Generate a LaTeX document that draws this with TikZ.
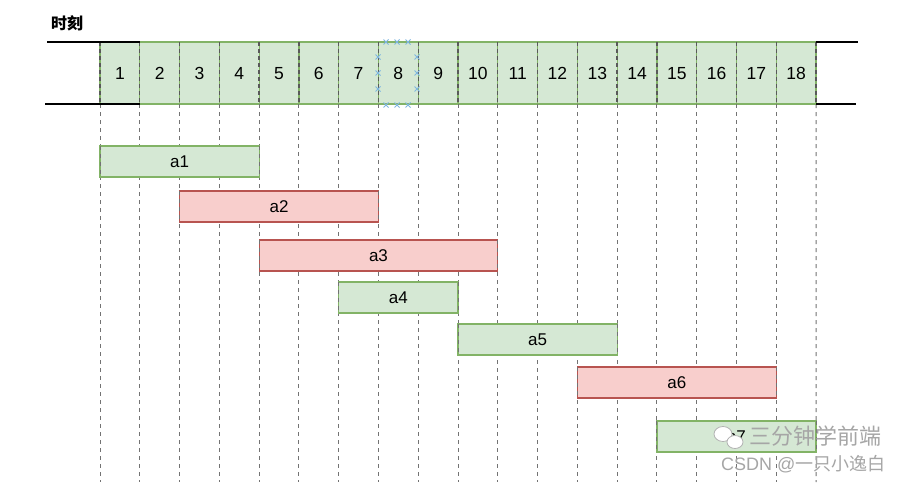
\documentclass[tikz,border=0pt]{standalone}
\usepackage{fontspec}
\setmainfont{Liberation Sans}
\newfontfamily\cjk{Noto Sans CJK SC}
\definecolor{gfill}{HTML}{D5E8D4}
\definecolor{gline}{HTML}{82B366}
\definecolor{rfill}{HTML}{F8CECC}
\definecolor{rline}{HTML}{B85450}
\definecolor{selblue}{HTML}{7EB6E0}
\begin{document}
\begin{tikzpicture}[x=1pt,y=-1pt,
  cell/.style={draw=gline, fill=gfill, line width=1.2pt, minimum width=39.78pt, minimum height=62pt, inner sep=0pt, outer sep=0pt, anchor=north west, text height=12.6pt, text depth=0pt, font=\fontsize{17.5}{17.5}\selectfont},
  gbar/.style={draw=gline, fill=gfill, line width=1.2pt, minimum height=31pt, inner sep=0pt, outer sep=0pt, anchor=north west, text height=12.2pt, text depth=0pt, font=\fontsize{17}{17}\selectfont},
  rbar/.style={draw=rline, fill=rfill, line width=1.2pt, minimum height=31pt, inner sep=0pt, outer sep=0pt, anchor=north west, text height=12.2pt, text depth=0pt, font=\fontsize{17}{17}\selectfont},
  vd/.style={draw=black!55, line width=1pt, dash pattern=on 4pt off 4pt},
  sepd/.style={draw=black!65, line width=1.3pt, dash pattern=on 4pt off 3pt},
  blk/.style={draw=black, line width=2.4pt},
  selx/.style={draw=selblue, line width=1pt},
  wm/.style={text=black!35, inner sep=0pt}
]
\useasboundingbox (0,0) rectangle (904,482);
\fill[white] (0,0) rectangle (904,482);

% title
\node[font=\cjk\fontsize{16}{16}\selectfont\bfseries, inner sep=0pt] (title) at (67,23) {时刻};

% cells
\foreach \i in {1,...,18} {
  \node[cell] (c\i) at ({100+(\i-1)*39.78},42) {\i};
}
% long vertical dashed guide lines
\foreach \i in {1,...,18} {
  \coordinate (e\i) at ({100+(\i-1)*39.78},482);
  \draw[vd] (c\i.south west) -- (e\i);
}
\coordinate (e19) at (816,482);
\draw[vd] (c18.south east) -- (e19);

% separators in the strip
\foreach \i in {1,...,18} {
  \draw[sepd] (c\i.north west) -- (c\i.south west);
}
\draw[sepd] (c18.north east) -- (c18.south east);

% black rails
\coordinate (L1) at (47,42);
\coordinate (L2) at (45,104);
\coordinate (R1) at (858,42);
\coordinate (R2) at (856,104);
\draw[blk] (L1) -- (c1.north east);
\draw[blk] (L2) -- (c1.south east);
\draw[blk] (c18.north east) -- (R1);
\draw[blk] (c18.south east) -- (R2);

% selection marks around cell 8
\foreach \x in {386,397,408} {
  \draw[selx] (\x-2.5,42-2.5) -- (\x+2.5,42+2.5) (\x-2.5,42+2.5) -- (\x+2.5,42-2.5);
  \draw[selx] (\x-2.5,105-2.5) -- (\x+2.5,105+2.5) (\x-2.5,105+2.5) -- (\x+2.5,105-2.5);
}
\foreach \y in {57,73,89} {
  \draw[selx] (378-2.5,\y-2.5) -- (378+2.5,\y+2.5) (378-2.5,\y+2.5) -- (378+2.5,\y-2.5);
  \draw[selx] (417-2.5,\y-2.5) -- (417+2.5,\y+2.5) (417-2.5,\y+2.5) -- (417+2.5,\y-2.5);
}

% bars
\node[gbar, minimum width={4*39.78pt}] (a1) at (100,146) {a1};
\node[rbar, minimum width={5*39.78pt}] (a2) at ({100+2*39.78},191) {a2};
\node[rbar, minimum width={6*39.78pt}] (a3) at ({100+4*39.78},240) {a3};
\node[gbar, minimum width={3*39.78pt}] (a4) at ({100+6*39.78},282) {a4};
\node[gbar, minimum width={4*39.78pt}] (a5) at ({100+9*39.78},324) {a5};
\node[rbar, minimum width={5*39.78pt}] (a6) at ({100+12*39.78},367) {a6};
\node[gbar, minimum width={4*39.78pt}] (a7) at ({100+14*39.78},421) {a7};

% dashed edges over the bars
\foreach \b in {a1,a2,a3,a4,a5,a6,a7} {
  \draw[vd] (\b.north west) -- (\b.south west);
  \draw[vd] (\b.north east) -- (\b.south east);
}

% watermark
\draw[black!30, fill=white, line width=0.8pt] (723,434) ellipse (9pt and 7.5pt);
\draw[black!30, fill=white, line width=0.8pt] (735,442) ellipse (8pt and 6.5pt);
\node[wm, font=\cjk\fontsize{22}{22}\selectfont, anchor=west] (wm1) at (749,436) {三分钟学前端};
\node[wm, font=\fontsize{18}{18}\selectfont, anchor=west] (wm2) at (721,464) {CSDN @{\cjk 一只小逸白}};
\end{tikzpicture}
\end{document}
